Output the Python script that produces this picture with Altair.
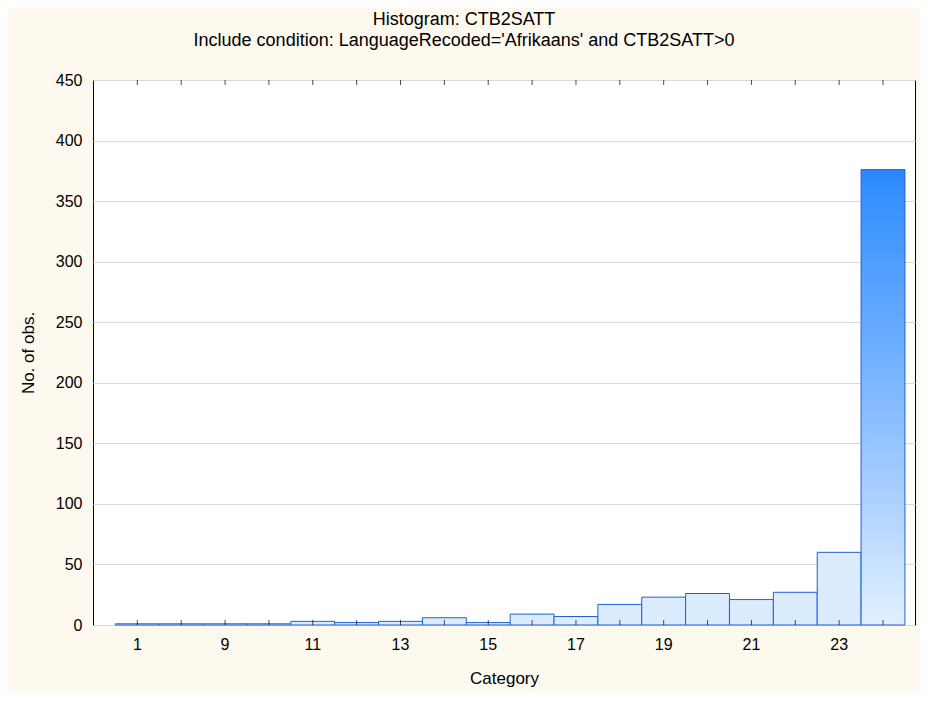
import altair as alt
import pandas as pd

categories = ["1", "8", "9", "10", "11", "12", "13", "14", "15", "16", "17", "18",
              "19", "20", "21", "22", "23", "24"]
counts = [1, 1, 1, 1, 3, 2, 3, 6, 2, 9, 7, 17, 23, 26, 21, 27, 60, 376]
shown_labels = ["1", "9", "11", "13", "15", "17", "19", "21", "23"]
y_ticks = [0, 50, 100, 150, 200, 250, 300, 350, 400, 450]

df = pd.DataFrame({"cat": categories, "count": counts})

FONT = "Liberation Sans"

gradient = {
    "gradient": "linear", "x1": 0, "y1": 0, "x2": 0, "y2": 1,
    "stops": [
        {"offset": 0.0, "color": "#2a86ff"},
        {"offset": 0.05, "color": "#3590ff"},
        {"offset": 0.35, "color": "#66aaff"},
        {"offset": 0.68, "color": "#a4ccff"},
        {"offset": 1.0, "color": "#e2f0ff"},
    ],
}

xscale = alt.Scale(domain=categories, paddingInner=0, paddingOuter=0.37, align=0.69)
yscale = alt.Scale(domain=[0, 450], nice=False)

base = alt.Chart(df)

bars = base.mark_bar(stroke="#1f5fd8", strokeWidth=1).encode(
    x=alt.X("cat:N", sort=categories, scale=xscale, title="Category",
            axis=alt.Axis(values=shown_labels, labelAngle=0, ticks=False, domain=False,
                          labelFontSize=16, labelPadding=11, titleFontSize=17,
                          titlePadding=18, labelColor="#000", titleColor="#000",
                          labelFont=FONT, titleFont=FONT, titleFontWeight="normal")),
    y=alt.Y("count:Q", scale=yscale, title="No. of obs.",
            axis=alt.Axis(values=y_ticks, ticks=False, domain=False, grid=True,
                          gridColor="#d9d9d9", labelFontSize=16, labelPadding=11,
                          titleFontSize=17, titlePadding=18, labelColor="#000",
                          titleColor="#000", labelFont=FONT, titleFont=FONT,
                          titleFontWeight="normal")),
    fill=alt.condition("datum.count > 100", alt.value(gradient), alt.value("#dcecff")),
)

bottom_ticks = base.transform_calculate(zero="0").mark_tick(
    orient="vertical", size=5, thickness=1, color="#000", yOffset=-2.5
).encode(
    x=alt.X("cat:N", sort=categories, scale=xscale),
    y=alt.Y("zero:Q", scale=yscale),
)

top_ticks = base.transform_calculate(top="450").mark_tick(
    orient="vertical", size=5, thickness=1, color="#000", yOffset=2.5
).encode(
    x=alt.X("cat:N", sort=categories, scale=xscale),
    y=alt.Y("top:Q", scale=yscale),
)

chart = alt.layer(bars, bottom_ticks, top_ticks).properties(
    width=822,
    height=545,
    title=alt.TitleParams(
        text="Histogram: CTB2SATT",
        subtitle="Include condition: LanguageRecoded='Afrikaans' and CTB2SATT>0",
        anchor="middle", dx=-40, offset=22, fontSize=18, subtitleFontSize=18,
        font=FONT, subtitleFont=FONT, fontWeight="normal", color="#000",
        subtitleColor="#000", subtitlePadding=3,
    ),
    autosize=alt.AutoSizeParams(type="none"),
    padding={"left": 85, "top": 72, "right": 5, "bottom": 68},
).configure(
    background="#fdf9ef",
).configure_view(
    stroke="#000", strokeWidth=1, fill="#ffffff",
)

chart.save("out.html", embed_options={"renderer": "svg", "actions": False})
